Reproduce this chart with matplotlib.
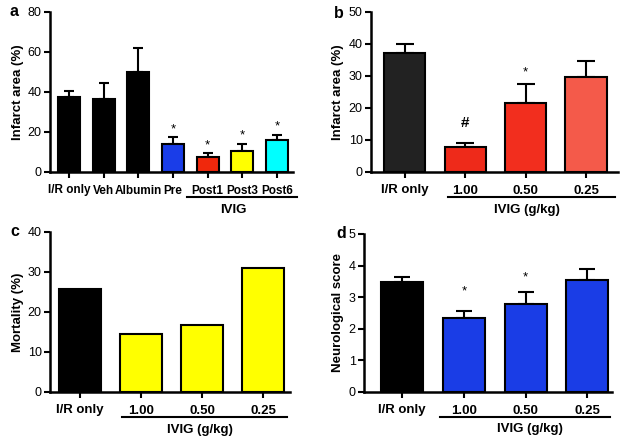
import matplotlib
matplotlib.use("Agg")
import matplotlib.pyplot as plt
import matplotlib.transforms as mtransforms

plt.rcParams['font.family'] = ['Liberation Sans', 'DejaVu Sans']

# ---- data ----
a_labels = ["I/R only", "Veh", "Albumin", "Pre", "Post1", "Post3", "Post6"]
a_values = [37.3, 36.5, 50.2, 13.8, 7.6, 10.6, 15.8]
a_errors = [3.2, 7.8, 11.8, 3.5, 1.7, 3.5, 2.8]
a_colors = ["#000000", "#000000", "#000000", "#1a3de8", "#f0280c", "#ffff00", "#00ffff"]
a_marks = ["", "", "", "*", "*", "*", "*"]

b_labels = ["I/R only", "1.00", "0.50", "0.25"]
b_values = [37.3, 7.7, 21.7, 29.6]
b_errors = [2.8, 1.5, 5.8, 5.0]
b_colors = ["#222222", "#ee2a1a", "#f22e1e", "#f45a4a"]

c_labels = ["I/R only", "1.00", "0.50", "0.25"]
c_values = [25.7, 14.4, 16.8, 30.9]
c_colors = ["#000000", "#ffff00", "#ffff00", "#ffff00"]

d_labels = ["I/R only", "1.00", "0.50", "0.25"]
d_values = [3.49, 2.34, 2.79, 3.54]
d_errors = [0.16, 0.23, 0.39, 0.36]
d_colors = ["#000000", "#1a3de6", "#1a3de6", "#1a3de6"]

W, H = 623, 442
fig = plt.figure(figsize=(W / 100, H / 100), dpi=100)


def px_axes(left, top, right, bottom):
    return fig.add_axes([left / W, 1 - bottom / H, (right - left) / W, (bottom - top) / H])


def style(ax, ymax, ystep, ylabel, labels, xfs):
    for s in ["top", "right"]:
        ax.spines[s].set_visible(False)
    for s in ["left", "bottom"]:
        ax.spines[s].set_linewidth(1.8)
    ax.set_ylim(0, ymax)
    ax.set_yticks([i * ystep for i in range(int(round(ymax / ystep)) + 1)])
    ax.set_xticks(range(len(labels)))
    ax.set_xticklabels(labels, fontweight="bold", fontsize=xfs)
    ax.tick_params(axis="both", direction="out", length=4, width=1.5, pad=2)
    ax.tick_params(axis="y", labelsize=9)
    ax.tick_params(axis="x", pad=5)
    ax.set_ylabel(ylabel, fontweight="bold", fontsize=9.5, labelpad=3)


def bars(ax, values, errors, colors, width, capsize):
    x = list(range(len(values)))
    ax.bar(x, values, width=width, color=colors, edgecolor="black", linewidth=1.5, zorder=2)
    if errors is not None:
        ax.errorbar(x, values, yerr=[[0] * len(values), errors], fmt="none",
                    ecolor="black", elinewidth=1.5, capsize=capsize, capthick=1.5, zorder=1)


def group(ax, x0, x1, xt, label, ly=-0.156, ty=-0.235):
    tr = mtransforms.blended_transform_factory(ax.transData, ax.transAxes)
    ax.plot([x0, x1], [ly, ly], color="black", lw=1.5, transform=tr, clip_on=False)
    ax.text(xt, ty, label, transform=tr, ha="center", va="center", fontsize=9.5, fontweight="bold")


# ---- panel a ----
axa = px_axes(50, 12, 293, 172)
bars(axa, a_values, a_errors, a_colors, 0.63, 3.5)
style(axa, 80, 20, "Infarct area (%)", a_labels, 8.5)
axa.set_xlim(-0.55, 6.46)
for i, s in enumerate(a_marks):
    if s:
        axa.text(i, a_values[i] + a_errors[i] + 4.2, s, ha="center", va="center", fontsize=9.5)
group(axa, 3.40, 6.57, 4.73, "IVIG")
fig.text(10 / W, 1 - 12 / H, "a", fontsize=11.5, fontweight="bold", ha="left", va="center")

# ---- panel b ----
axb = px_axes(371, 12, 618, 172)
bars(axb, b_values, b_errors, b_colors, 0.68, 6.5)
style(axb, 50, 10, "Infarct area (%)", b_labels, 9.5)
axb.set_xlim(-0.56, 3.53)
axb.text(1, 15.3, "#", ha="center", va="center", fontsize=11, fontweight="bold")
axb.text(2, 31.0, "*", ha="center", va="center", fontsize=9.5)
group(axb, 0.71, 3.48, 2.02, "IVIG (g/kg)")
fig.text(334 / W, 1 - 14 / H, "b", fontsize=11.5, fontweight="bold", ha="left", va="center")

# ---- panel c ----
axc = px_axes(50, 232, 290, 392)
bars(axc, c_values, None, c_colors, 0.69, 0)
style(axc, 40, 10, "Mortality (%)", c_labels, 9.5)
axc.set_xlim(-0.49, 3.44)
group(axc, 0.69, 3.39, 1.97, "IVIG (g/kg)")
fig.text(10 / W, 1 - 232 / H, "c", fontsize=11.5, fontweight="bold", ha="left", va="center")

# ---- panel d ----
axd = px_axes(364, 234, 612, 392)
bars(axd, d_values, d_errors, d_colors, 0.68, 6.0)
style(axd, 5, 1, "Neurological score", d_labels, 9.5)
axd.set_xlim(-0.62, 3.40)
axd.text(1, 3.17, "*", ha="center", va="center", fontsize=9.5)
axd.text(2, 3.64, "*", ha="center", va="center", fontsize=9.5)
group(axd, 0.62, 3.36, 2.07, "IVIG (g/kg)")
fig.text(336 / W, 1 - 233 / H, "d", fontsize=11.5, fontweight="bold", ha="left", va="center")

fig.savefig("out.png", dpi=100)
